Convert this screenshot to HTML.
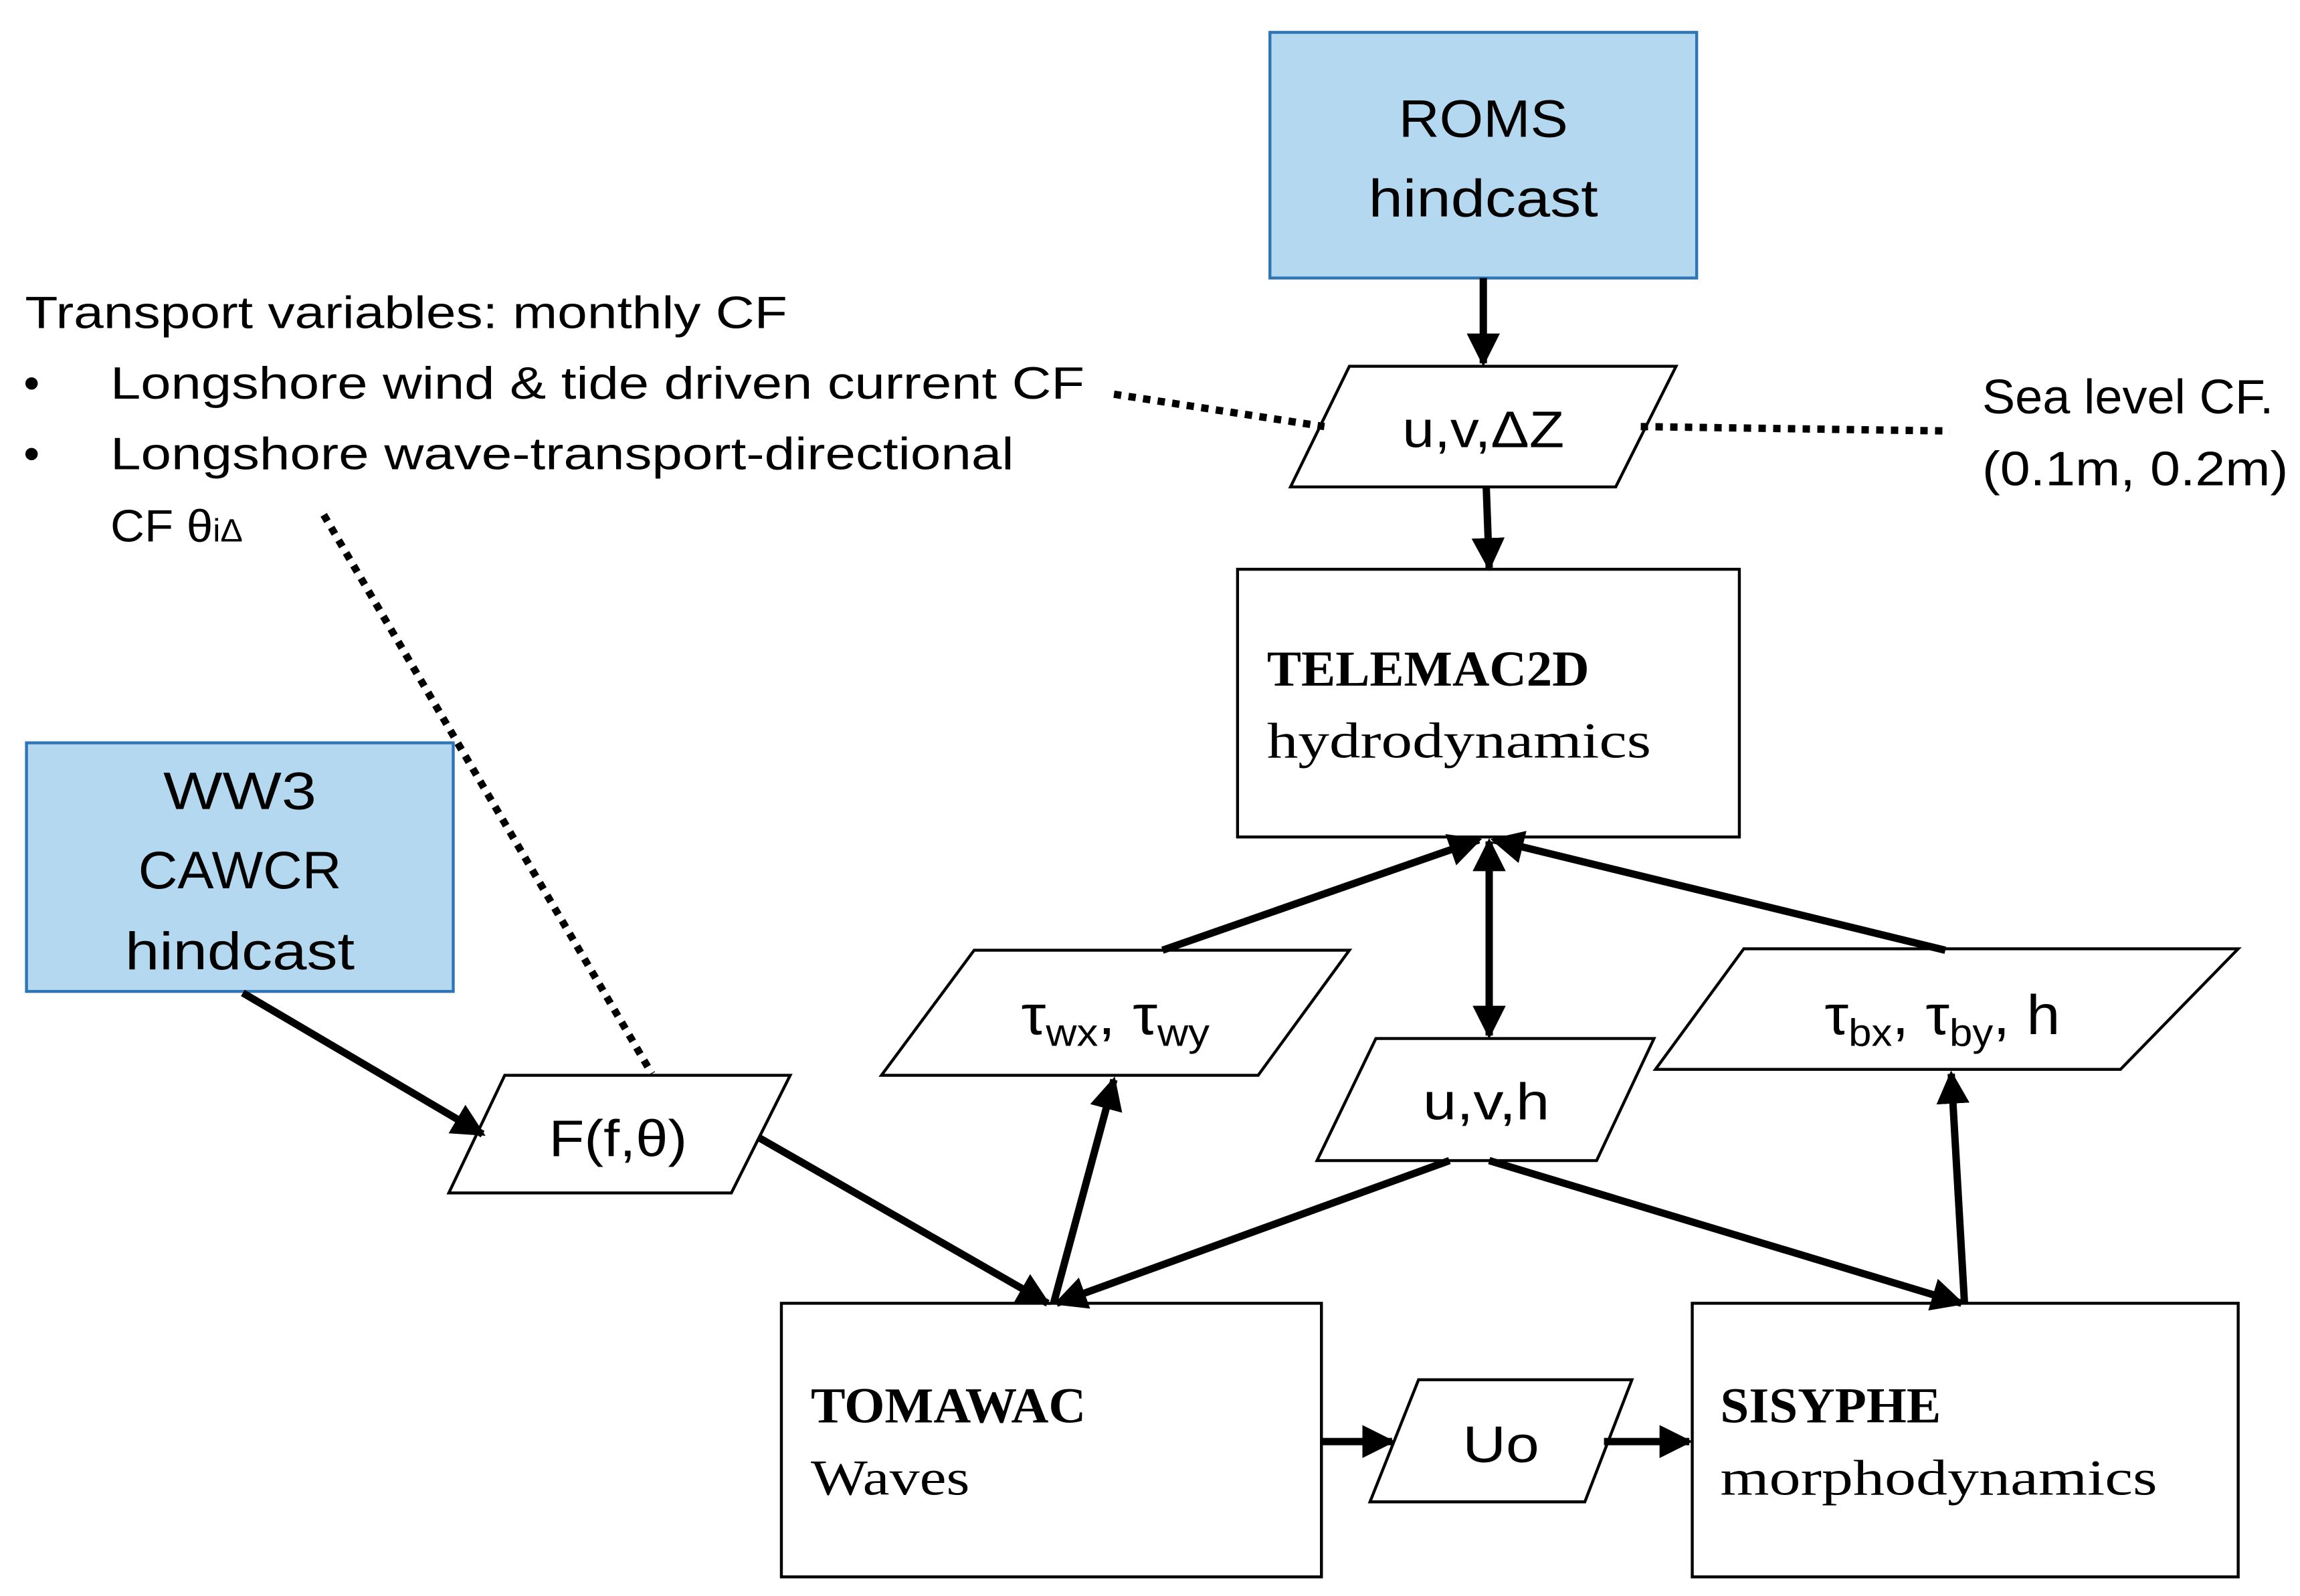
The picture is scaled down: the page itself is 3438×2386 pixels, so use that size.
<!DOCTYPE html>
<html><head><meta charset="utf-8"><style>html,body{margin:0;padding:0;background:#fff}svg{display:block}</style></head>
<body>
<svg width="3438" height="2386" viewBox="0 0 1563 1085" preserveAspectRatio="none" xmlns="http://www.w3.org/2000/svg">
<defs>
<marker id="ah" viewBox="0 0 10 10" refX="9" refY="5" markerWidth="4.5" markerHeight="4.5" orient="auto-start-reverse" markerUnits="strokeWidth">
<path d="M0,0 L10,5 L0,10 z" fill="#000"/></marker>
</defs>
<g font-family="Liberation Sans, sans-serif" fill="#000">
<rect x="863" y="22" width="290" height="167" fill="#b4d8f0" stroke="#2e75b6" stroke-width="2"/>
<text x="1008" y="93" font-size="36" text-anchor="middle" textLength="115" lengthAdjust="spacingAndGlyphs">ROMS</text>
<text x="1008" y="147" font-size="36" text-anchor="middle" textLength="156" lengthAdjust="spacingAndGlyphs">hindcast</text>
<rect x="18" y="505" width="290" height="169" fill="#b4d8f0" stroke="#2e75b6" stroke-width="2"/>
<text x="163" y="550" font-size="36" text-anchor="middle" textLength="104" lengthAdjust="spacingAndGlyphs">WW3</text>
<text x="163" y="604" font-size="36" text-anchor="middle" textLength="138" lengthAdjust="spacingAndGlyphs">CAWCR</text>
<text x="163" y="659" font-size="36" text-anchor="middle" textLength="156" lengthAdjust="spacingAndGlyphs">hindcast</text>
<g fill="#fff" stroke="#000" stroke-width="2">
<rect x="841" y="387" width="341" height="182"/>
<rect x="531" y="886" width="367" height="186"/>
<rect x="1150" y="886" width="371" height="186"/>
<polygon points="917,249 1139,249 1098,331 877,331"/>
<polygon points="343,731 537,731 497,811 305,811"/>
<polygon points="662,646 917,646 855,731 599,731"/>
<polygon points="1185,645 1521,645 1441,727 1125,727"/>
<polygon points="935,706 1124,706 1085,789 895,789"/>
<polygon points="964,938 1109,938 1077,1021 931,1021"/>
</g>
<g font-family="Liberation Serif, serif" font-size="34">
<text x="861" y="466" font-weight="bold" textLength="219" lengthAdjust="spacingAndGlyphs">TELEMAC2D</text>
<text x="861" y="515" textLength="261" lengthAdjust="spacingAndGlyphs">hydrodynamics</text>
<text x="551" y="967" font-weight="bold" textLength="187" lengthAdjust="spacingAndGlyphs">TOMAWAC</text>
<text x="551" y="1016" textLength="108" lengthAdjust="spacingAndGlyphs">Waves</text>
<text x="1169" y="967" font-weight="bold" textLength="150" lengthAdjust="spacingAndGlyphs">SISYPHE</text>
<text x="1169" y="1016" textLength="297" lengthAdjust="spacingAndGlyphs">morphodynamics</text>
</g>
<g font-size="35" text-anchor="middle">
<text x="1008" y="304" textLength="110" lengthAdjust="spacingAndGlyphs">u,v,ΔZ</text>
<text x="420" y="786" textLength="94" lengthAdjust="spacingAndGlyphs">F(f,θ)</text>
<text x="1010" y="761" textLength="86" lengthAdjust="spacingAndGlyphs">u,v,h</text>
<text x="1020" y="994" textLength="52" lengthAdjust="spacingAndGlyphs">Uo</text>
<text x="758" y="703" font-size="38" textLength="128" lengthAdjust="spacingAndGlyphs">τ<tspan font-size="26" dy="8">wx</tspan><tspan dy="-8">, τ</tspan><tspan font-size="26" dy="8">wy</tspan></text>
<text x="1320" y="703" font-size="38" textLength="160" lengthAdjust="spacingAndGlyphs">τ<tspan font-size="26" dy="8">bx</tspan><tspan dy="-8">, τ</tspan><tspan font-size="26" dy="8">by</tspan><tspan dy="-8">, h</tspan></text>
</g>
<g font-size="31">
<text x="17" y="223" textLength="518" lengthAdjust="spacingAndGlyphs">Transport variables: monthly CF</text>
<text x="16" y="271">•</text>
<text x="75" y="271" textLength="662" lengthAdjust="spacingAndGlyphs">Longshore wind &amp; tide driven current CF</text>
<text x="16" y="319">•</text>
<text x="75" y="319" textLength="614" lengthAdjust="spacingAndGlyphs">Longshore wave-transport-directional</text>
<text x="75" y="368" textLength="90" lengthAdjust="spacingAndGlyphs">CF θ<tspan font-size="22">iΔ</tspan></text>
<text x="1347" y="281" font-size="33" textLength="198" lengthAdjust="spacingAndGlyphs">Sea level CF.</text>
<text x="1347" y="330" font-size="33" textLength="208" lengthAdjust="spacingAndGlyphs">(0.1m, 0.2m)</text>
</g>
<g stroke="#000" stroke-width="5" stroke-dasharray="5,5" fill="none">
<line x1="220" y1="350" x2="443" y2="730"/>
<line x1="757" y1="268" x2="900" y2="290"/>
<line x1="1115" y1="290" x2="1325" y2="293"/>
</g>
<g stroke="#000" stroke-width="5" fill="none" marker-end="url(#ah)">
<line x1="1008" y1="189" x2="1008" y2="247"/>
<line x1="1010" y1="331" x2="1012" y2="386"/>
<line x1="165" y1="675" x2="328" y2="771"/>
<line x1="515" y1="773" x2="712" y2="886"/>
<line x1="985" y1="789" x2="718" y2="886"/>
<line x1="1012" y1="789" x2="1333" y2="886"/>
<line x1="716" y1="886" x2="757" y2="734"/>
<line x1="1335" y1="886" x2="1326" y2="730"/>
<line x1="790" y1="646" x2="1005" y2="571"/>
<line x1="1322" y1="646" x2="1015" y2="571"/>
<line x1="1012" y1="572" x2="1012" y2="704" marker-start="url(#ah)"/>
<line x1="898" y1="980" x2="946" y2="980"/>
<line x1="1090" y1="980" x2="1148" y2="980"/>
</g>
</g>
</svg>
</body></html>
